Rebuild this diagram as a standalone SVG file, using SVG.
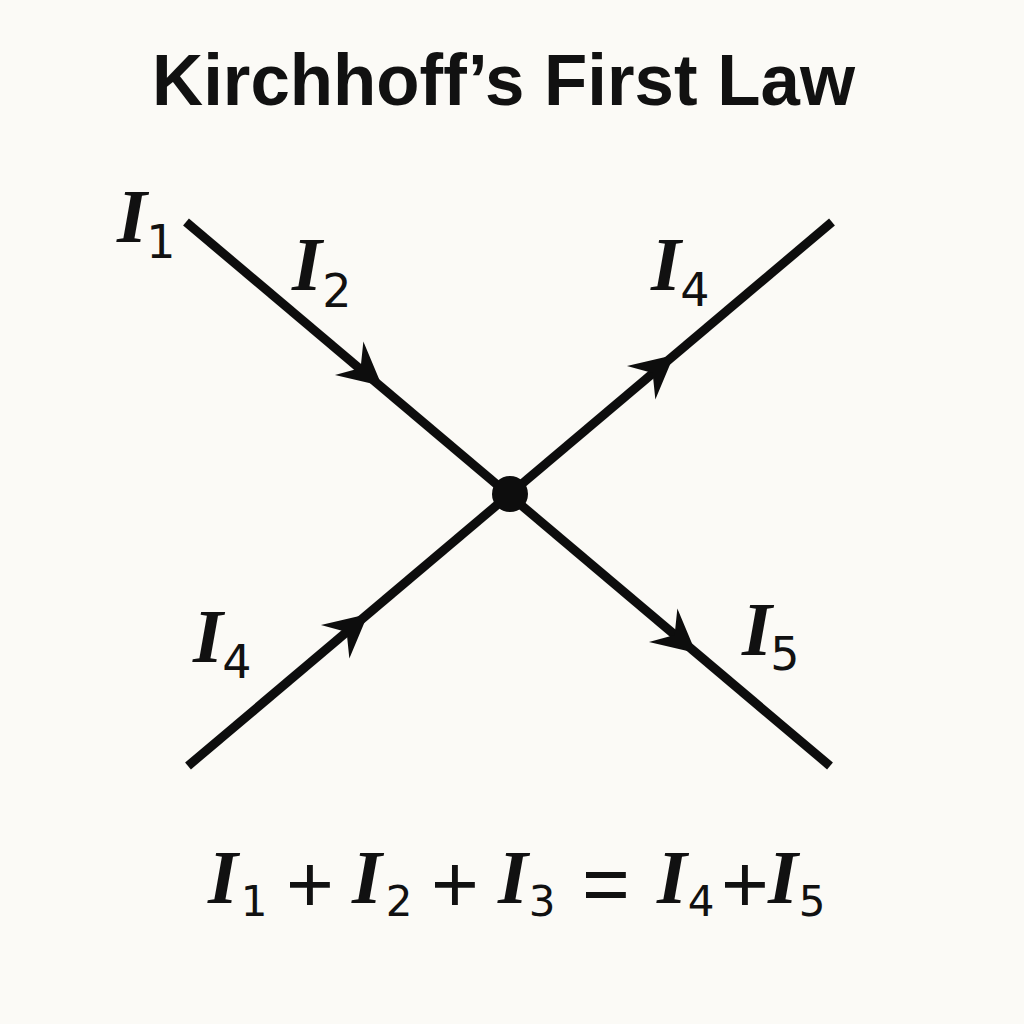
<svg xmlns="http://www.w3.org/2000/svg" xmlns:xlink="http://www.w3.org/1999/xlink" width="1024" height="1024" viewBox="0 0 1024 1024">
  <style>
    .title { font-family: "Liberation Sans", Arial, sans-serif; font-weight: bold; font-size: 72px; fill: #111; }
    .I { font-family: "Liberation Serif", "Times New Roman", serif; font-style: italic; font-weight: bold; font-size: 77px; fill: #111; }
    .sub { font-family: "DejaVu Sans", sans-serif; font-size: 46px; fill: #111; text-anchor: middle; }
    .esub { font-family: "DejaVu Sans", sans-serif; font-size: 42px; fill: #111; text-anchor: middle; }
    .op { font-family: "Liberation Sans", Arial, sans-serif; font-size: 82px; fill: #111; text-anchor: middle; }
    .wire { stroke: #0d0d0d; stroke-width: 9; fill: none; stroke-linecap: butt; }
  </style>
  <defs>
    <polygon id="ah" points="0,0 -43,-22 -28,0 -43,22" fill="#0d0d0d"/>
  </defs>
  <rect width="1024" height="1024" fill="#fbfaf6"/>

  <text id="title" class="title" x="152" y="105" textLength="703" lengthAdjust="spacingAndGlyphs">Kirchhoff’s First Law</text>

  <g id="connectors">
    <line class="wire" x1="186" y1="222" x2="830" y2="766"/>
    <line class="wire" x1="188" y1="766" x2="832" y2="222"/>
    <use xlink:href="#ah" transform="translate(382,386) rotate(40.2)"/>
    <use xlink:href="#ah" transform="translate(696,653) rotate(40.2)"/>
    <use xlink:href="#ah" transform="translate(368,614) rotate(-40.2)"/>
    <use xlink:href="#ah" transform="translate(674,355) rotate(-40.2)"/>
  </g>

  <g id="junction">
    <circle cx="510" cy="494" r="18" fill="#0d0d0d"/>
  </g>

  <g id="label-I1">
    <text class="I" x="117" y="242">I</text>
    <text class="sub" x="161" y="258">1</text>
  </g>
  <g id="label-I2">
    <text class="I" x="292" y="290">I</text>
    <text class="sub" x="337" y="307">2</text>
  </g>
  <g id="label-I4-top">
    <text class="I" x="651" y="290">I</text>
    <text class="sub" x="695" y="306">4</text>
  </g>
  <g id="label-I4-bottom">
    <text class="I" x="193" y="662">I</text>
    <text class="sub" x="237" y="678">4</text>
  </g>
  <g id="label-I5">
    <text class="I" x="742" y="655">I</text>
    <text class="sub" x="785" y="670">5</text>
  </g>

  <g id="equation">
    <text class="I" x="208" y="903">I</text>
    <text class="esub" x="254" y="916">1</text>
    <text class="op" x="310" y="912">+</text>
    <text class="I" x="352" y="903">I</text>
    <text class="esub" x="399" y="916">2</text>
    <text class="op" x="455" y="912">+</text>
    <text class="I" x="498" y="903">I</text>
    <text class="esub" x="542" y="916">3</text>
    <text class="op" x="606" y="912">=</text>
    <text class="I" x="657" y="903">I</text>
    <text class="esub" x="701" y="916">4</text>
    <text class="op" x="745" y="912">+</text>
    <text class="I" x="768" y="903">I</text>
    <text class="esub" x="812" y="916">5</text>
  </g>
</svg>
